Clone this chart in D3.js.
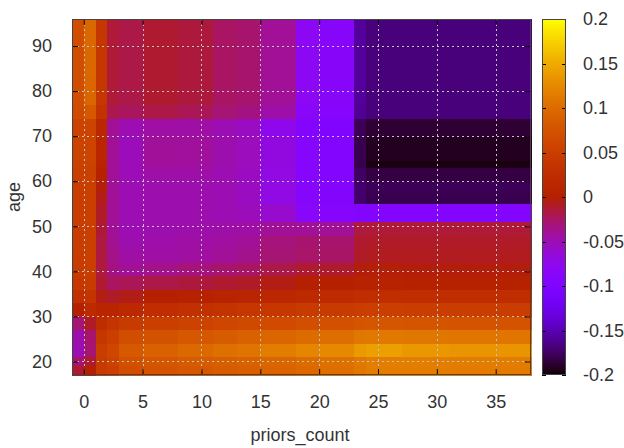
<!DOCTYPE html>
<html>
<head>
<meta charset="utf-8">
<script src="https://cdn.jsdelivr.net/npm/d3@7"></script>
<style>
  html, body { margin: 0; padding: 0; background: #fff; }
  svg { display: block; }
  text { font-family: "Liberation Sans", Arial, sans-serif; fill: #333; }
</style>
</head>
<body>
<svg id="chart" width="624" height="448"></svg>
<script>
// priors_count bin edges (columns of the grid)
const xEdges = [-1, 0, 1, 2, 3, 5, 8, 11, 13, 15, 18, 20, 23, 24, 27, 31, 35, 38];
// age bin edges (rows of the grid, bottom to top)
const ageEdges = [17, 19, 21, 24, 27, 30, 33, 36, 39, 42, 45, 48, 51, 55, 57.5, 60, 63, 64.5, 70, 74, 77, 83, 90, 96];

// partial dependence value for each (age row, priors_count column)
const effect = [
  [-0.012, 0.000, 0.045, 0.050, 0.068, 0.075, 0.080, 0.085, 0.088, 0.092, 0.098, 0.102, 0.110, 0.115, 0.115, 0.114, 0.114],
  [-0.028, -0.012, 0.045, 0.055, 0.072, 0.078, 0.084, 0.088, 0.090, 0.095, 0.100, 0.104, 0.112, 0.116, 0.116, 0.115, 0.115],
  [-0.050, -0.030, 0.048, 0.060, 0.082, 0.090, 0.098, 0.104, 0.108, 0.115, 0.122, 0.125, 0.138, 0.142, 0.136, 0.134, 0.134],
  [-0.048, -0.028, 0.040, 0.050, 0.068, 0.074, 0.080, 0.085, 0.090, 0.095, 0.100, 0.102, 0.110, 0.112, 0.110, 0.109, 0.109],
  [-0.030, -0.010, 0.022, 0.035, 0.045, 0.050, 0.055, 0.060, 0.064, 0.066, 0.070, 0.072, 0.076, 0.078, 0.076, 0.075, 0.075],
  [0.002, 0.020, 0.010, 0.010, 0.018, 0.024, 0.030, 0.034, 0.038, 0.040, 0.044, 0.045, 0.048, 0.050, 0.048, 0.048, 0.048],
  [0.030, 0.036, -0.005, -0.010, -0.006, 0.000, 0.004, 0.008, 0.010, 0.014, 0.020, 0.021, 0.025, 0.026, 0.025, 0.025, 0.025],
  [0.042, 0.045, -0.012, -0.025, -0.022, -0.018, -0.015, -0.012, -0.010, -0.005, 0.000, 0.001, 0.005, 0.006, 0.004, 0.004, 0.004],
  [0.045, 0.048, -0.016, -0.034, -0.040, -0.036, -0.032, -0.028, -0.025, -0.018, -0.012, -0.011, -0.003, -0.002, -0.003, -0.003, -0.003],
  [0.047, 0.050, -0.016, -0.036, -0.045, -0.045, -0.043, -0.040, -0.037, -0.030, -0.027, -0.026, -0.010, -0.008, -0.008, -0.008, -0.008],
  [0.048, 0.050, -0.016, -0.038, -0.048, -0.046, -0.045, -0.043, -0.040, -0.032, -0.029, -0.028, -0.012, -0.010, -0.010, -0.010, -0.010],
  [0.048, 0.050, -0.013, -0.040, -0.050, -0.048, -0.047, -0.046, -0.045, -0.040, -0.040, -0.040, -0.016, -0.014, -0.014, -0.014, -0.014],
  [0.048, 0.050, -0.010, -0.040, -0.050, -0.048, -0.048, -0.050, -0.052, -0.060, -0.086, -0.090, -0.094, -0.095, -0.095, -0.095, -0.095],
  [0.048, 0.050, -0.006, -0.040, -0.050, -0.048, -0.048, -0.050, -0.055, -0.070, -0.090, -0.095, -0.172, -0.180, -0.180, -0.180, -0.180],
  [0.048, 0.050, -0.002, -0.040, -0.050, -0.048, -0.048, -0.050, -0.055, -0.070, -0.090, -0.095, -0.172, -0.178, -0.178, -0.178, -0.178],
  [0.050, 0.052, 0.004, -0.040, -0.051, -0.046, -0.046, -0.050, -0.055, -0.070, -0.090, -0.095, -0.175, -0.183, -0.183, -0.183, -0.183],
  [0.052, 0.054, 0.008, -0.040, -0.051, -0.042, -0.043, -0.048, -0.053, -0.068, -0.090, -0.095, -0.180, -0.196, -0.196, -0.196, -0.196],
  [0.056, 0.058, 0.012, -0.040, -0.052, -0.041, -0.042, -0.048, -0.053, -0.068, -0.090, -0.095, -0.180, -0.192, -0.192, -0.192, -0.192],
  [0.055, 0.058, 0.015, -0.040, -0.050, -0.045, -0.045, -0.050, -0.055, -0.075, -0.095, -0.100, -0.178, -0.187, -0.187, -0.187, -0.187],
  [0.065, 0.080, 0.032, -0.020, -0.024, -0.018, -0.022, -0.030, -0.034, -0.046, -0.085, -0.090, -0.160, -0.168, -0.168, -0.168, -0.168],
  [0.068, 0.095, 0.038, -0.014, -0.018, -0.012, -0.015, -0.025, -0.028, -0.040, -0.080, -0.088, -0.158, -0.168, -0.168, -0.168, -0.168],
  [0.068, 0.096, 0.038, -0.014, -0.018, -0.012, -0.015, -0.025, -0.028, -0.040, -0.080, -0.088, -0.158, -0.168, -0.168, -0.168, -0.168],
  [0.068, 0.096, 0.038, -0.014, -0.018, -0.012, -0.015, -0.025, -0.028, -0.040, -0.080, -0.088, -0.158, -0.168, -0.168, -0.168, -0.168]
];

const xTicks = [0, 5, 10, 15, 20, 25, 30, 35];
const yTicks = [20, 30, 40, 50, 60, 70, 80, 90];
const cbTicks = [-0.2, -0.15, -0.1, -0.05, 0, 0.05, 0.1, 0.15, 0.2];
const cbLabels = ["-0.2", "-0.15", "-0.1", "-0.05", "0", "0.05", "0.1", "0.15", "0.2"];

const plot = { left: 72, top: 19, width: 459, height: 356 };
const cbar = { left: 542, width: 24 };

const svg = d3.select("#chart");

const x = d3.scaleLinear().domain([-1, 38]).range([plot.left, plot.left + plot.width]);
const y = d3.scaleLinear().domain([17, 96]).range([plot.top + plot.height, plot.top]);
const cScale = d3.scaleLinear().domain([-0.2, 0.2]).range([0, 1]).clamp(true);

// black-blue-violet-red-yellow palette (rgb formulae 7,5,15)
function palette(v) {
  const g = cScale(v);
  const r = Math.sqrt(g);
  const gr = g * g * g;
  const b = Math.max(0, Math.min(1, Math.sin(2 * Math.PI * g)));
  return d3.rgb(Math.round(r * 255), Math.round(gr * 255), Math.round(b * 255)).formatHex();
}

// heatmap cells
const cells = [];
effect.forEach((row, i) => {
  row.forEach((v, j) => {
    cells.push({ x0: xEdges[j], x1: xEdges[j + 1], y0: ageEdges[i], y1: ageEdges[i + 1], v });
  });
});

svg.append("g")
  .attr("shape-rendering", "crispEdges")
  .selectAll("rect")
  .data(cells)
  .join("rect")
  .attr("x", d => x(d.x0))
  .attr("y", d => y(d.y1))
  .attr("width", d => x(d.x1) - x(d.x0) + 0.5)
  .attr("height", d => y(d.y0) - y(d.y1) + 0.5)
  .attr("fill", d => palette(d.v));

// dotted grid
const grid = svg.append("g")
  .attr("stroke", "#c4c4c4")
  .attr("stroke-width", 1)
  .attr("stroke-dasharray", "2,3")
  .attr("shape-rendering", "crispEdges");
grid.selectAll("line.gx").data(xTicks).join("line")
  .attr("class", "gx")
  .attr("x1", d => Math.round(x(d)) + 0.5).attr("x2", d => Math.round(x(d)) + 0.5)
  .attr("y1", plot.top).attr("y2", plot.top + plot.height);
grid.selectAll("line.gy").data(yTicks).join("line")
  .attr("class", "gy")
  .attr("y1", d => Math.round(y(d)) + 0.5).attr("y2", d => Math.round(y(d)) + 0.5)
  .attr("x1", plot.left).attr("x2", plot.left + plot.width);

// axes with inward ticks, mirrored on opposite sides
const tickLen = 6;
const axisStyle = g => {
  g.select(".domain").remove();
  g.selectAll(".tick line").attr("stroke", "#000");
  g.selectAll(".tick text").attr("font-size", 18).attr("fill", "#333")
    .attr("font-family", '"Liberation Sans", Arial, sans-serif');
};

svg.append("g")
  .attr("transform", `translate(0,${plot.top + plot.height})`)
  .call(d3.axisBottom(x).tickValues(xTicks).tickFormat(d3.format("d")).tickSizeInner(-tickLen).tickSizeOuter(0).tickPadding(20))
  .call(axisStyle);
svg.append("g")
  .attr("transform", `translate(0,${plot.top})`)
  .call(d3.axisTop(x).tickValues(xTicks).tickFormat("").tickSizeInner(-tickLen).tickSizeOuter(0))
  .call(axisStyle);
svg.append("g")
  .attr("transform", `translate(${plot.left},0)`)
  .call(d3.axisLeft(y).tickValues(yTicks).tickFormat(d3.format("d")).tickSizeInner(-tickLen).tickSizeOuter(0).tickPadding(20))
  .call(axisStyle);
svg.append("g")
  .attr("transform", `translate(${plot.left + plot.width},0)`)
  .call(d3.axisRight(y).tickValues(yTicks).tickFormat("").tickSizeInner(-tickLen).tickSizeOuter(0))
  .call(axisStyle);

// plot border
svg.append("rect")
  .attr("x", plot.left + 0.5).attr("y", plot.top + 0.5)
  .attr("width", plot.width - 1).attr("height", plot.height - 1)
  .attr("fill", "none").attr("stroke", "#444").attr("stroke-width", 1);

// axis titles
svg.append("text")
  .attr("x", 300).attr("y", 441)
  .attr("text-anchor", "middle").attr("font-size", 18)
  .text("priors_count");
svg.append("text")
  .attr("transform", `translate(20,${plot.top + plot.height / 2}) rotate(-90)`)
  .attr("text-anchor", "middle").attr("font-size", 18)
  .text("age");

// colour bar
const cy = d3.scaleLinear().domain([-0.2, 0.2]).range([plot.top + plot.height, plot.top]);
const defs = svg.append("defs");
const grad = defs.append("linearGradient")
  .attr("id", "cbgrad").attr("x1", 0).attr("y1", 1).attr("x2", 0).attr("y2", 0);
const nStops = 80;
d3.range(nStops + 1).forEach(k => {
  const v = -0.2 + 0.4 * k / nStops;
  grad.append("stop").attr("offset", k / nStops).attr("stop-color", palette(v));
});
svg.append("rect")
  .attr("x", cbar.left).attr("y", plot.top)
  .attr("width", cbar.width).attr("height", plot.height)
  .attr("fill", "url(#cbgrad)");

const cbAxis = svg.append("g").attr("shape-rendering", "crispEdges");
cbAxis.selectAll("line.l").data(cbTicks).join("line")
  .attr("class", "l")
  .attr("x1", cbar.left).attr("x2", cbar.left + 4)
  .attr("y1", d => Math.round(cy(d)) + 0.5).attr("y2", d => Math.round(cy(d)) + 0.5)
  .attr("stroke", "#000");
cbAxis.selectAll("line.r").data(cbTicks).join("line")
  .attr("class", "r")
  .attr("x1", cbar.left + cbar.width - 4).attr("x2", cbar.left + cbar.width)
  .attr("y1", d => Math.round(cy(d)) + 0.5).attr("y2", d => Math.round(cy(d)) + 0.5)
  .attr("stroke", "#000");
svg.append("rect")
  .attr("x", cbar.left + 0.5).attr("y", plot.top + 0.5)
  .attr("width", cbar.width - 1).attr("height", plot.height - 1)
  .attr("fill", "none").attr("stroke", "#444").attr("stroke-width", 1);

svg.append("g").selectAll("text").data(cbTicks).join("text")
  .attr("x", 583)
  .attr("y", d => cy(d))
  .attr("dy", "0.35em")
  .attr("font-size", 18)
  .text((d, i) => cbLabels[i]);
</script>
</body>
</html>
